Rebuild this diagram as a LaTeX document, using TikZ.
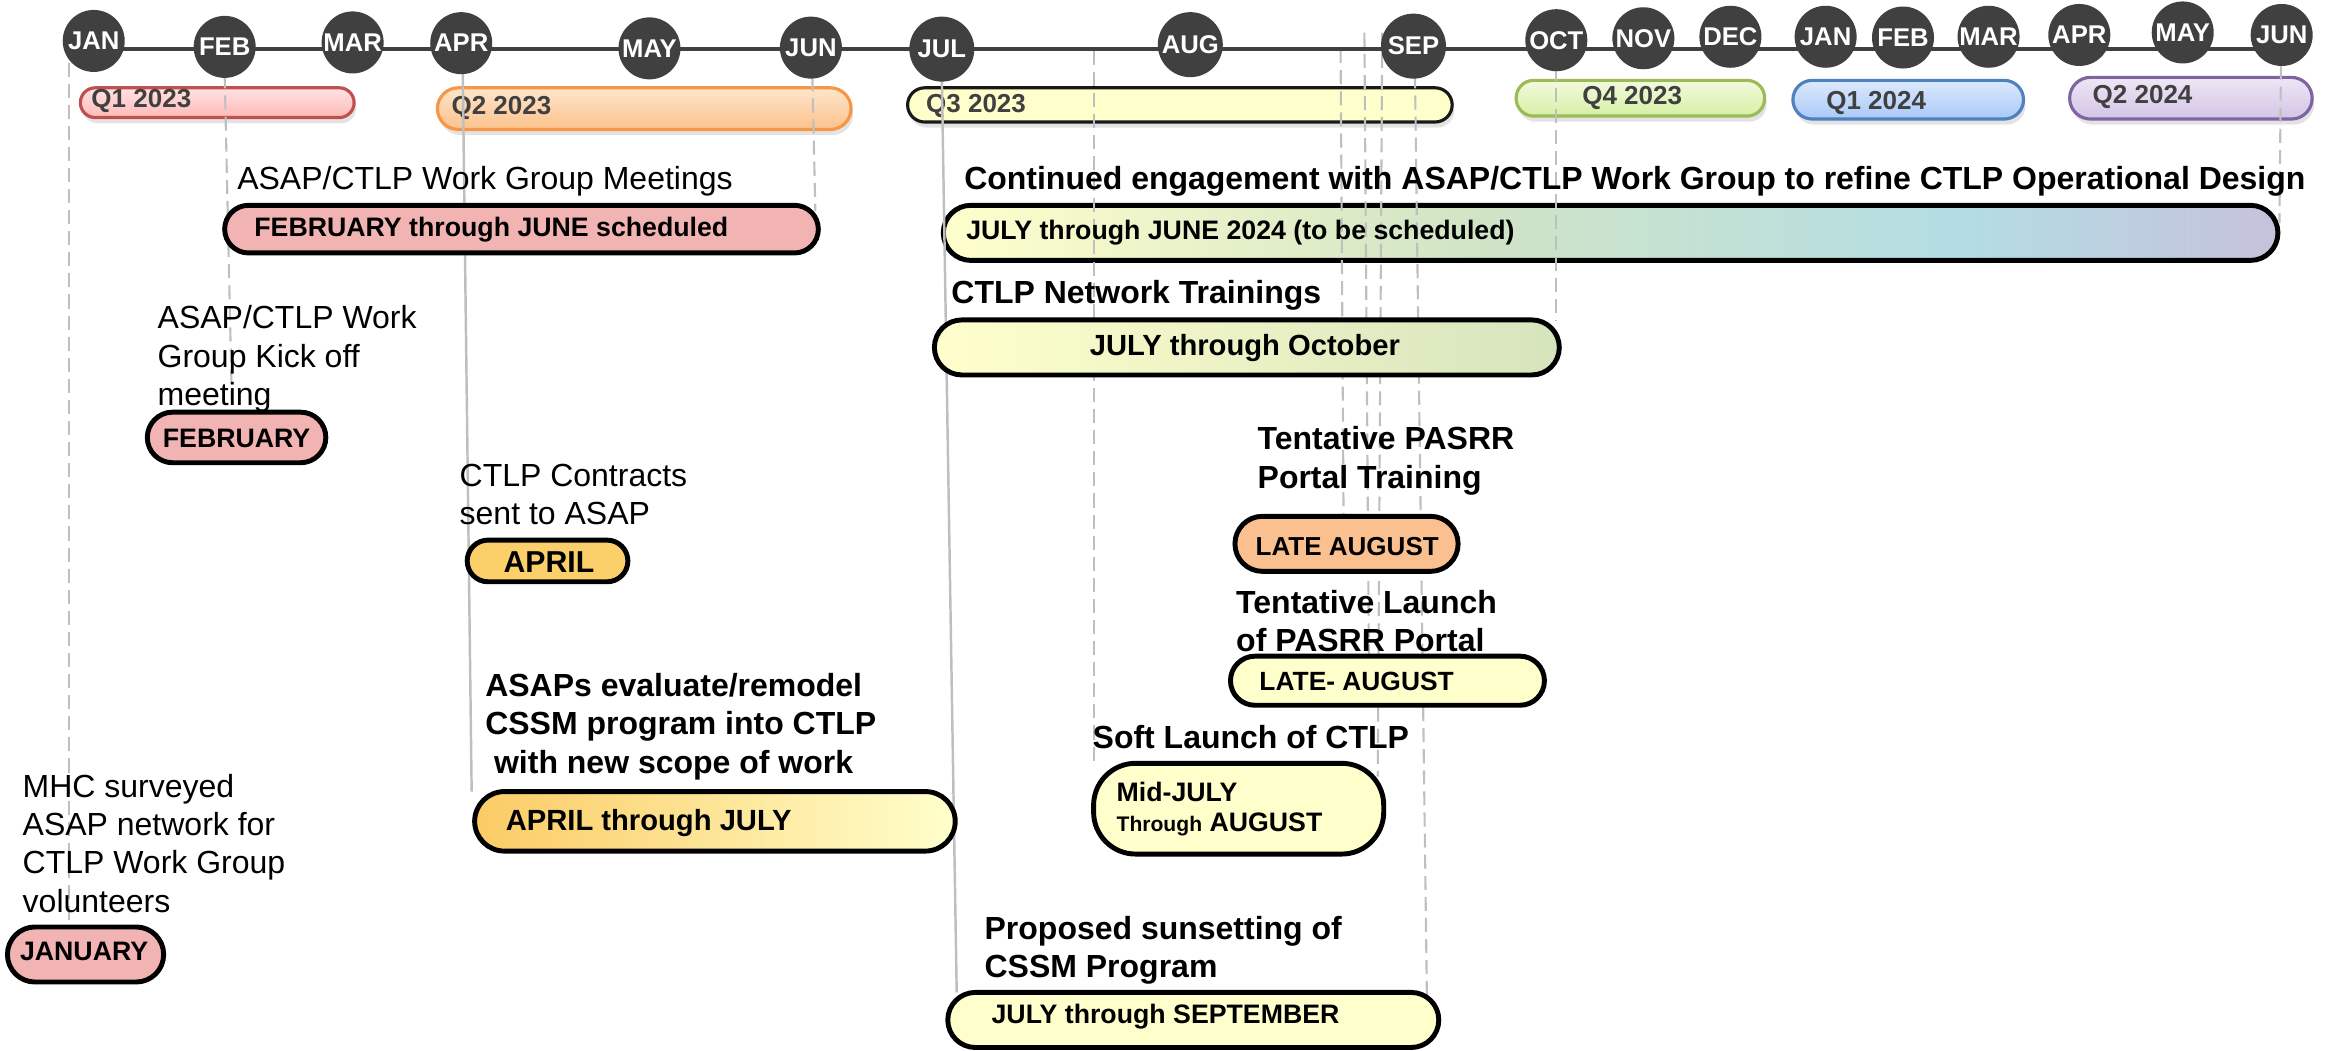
\documentclass[tikz,border=0pt]{standalone}
\usepackage{fontspec}
\setmainfont{Liberation Sans}
\usetikzlibrary{fit,shadows}
\definecolor{dkg}{HTML}{404040}
\definecolor{pinkf}{HTML}{F2B3B3}
\definecolor{goldf}{HTML}{FBCF6A}
\definecolor{yelf}{HTML}{FFFFCC}
\definecolor{orf}{HTML}{FAC090}
\definecolor{cGrn}{HTML}{D0E4C6}
\definecolor{cBlu}{HTML}{B3DDE4}
\definecolor{cLav}{HTML}{C6C2DC}
\definecolor{netG}{HTML}{D6E4BD}
\definecolor{guideg}{HTML}{BFBFBF}
\definecolor{qOneB}{HTML}{C0504D}\definecolor{qOneT}{HTML}{FFE3E3}\definecolor{qOneD}{HTML}{FFB9B9}
\definecolor{qTwoB}{HTML}{F79646}\definecolor{qTwoT}{HTML}{FEE5CC}\definecolor{qTwoD}{HTML}{FBC28C}
\definecolor{qFouB}{HTML}{9BBB59}\definecolor{qFouT}{HTML}{F3FADF}\definecolor{qFouD}{HTML}{D6F0A4}
\definecolor{qBluB}{HTML}{4F81BD}\definecolor{qBluT}{HTML}{DDE9FD}\definecolor{qBluD}{HTML}{A9C9F7}
\definecolor{qPurB}{HTML}{8064A2}\definecolor{qPurT}{HTML}{EEE6F5}\definecolor{qPurD}{HTML}{D3C5E6}
\pgfdeclarehorizontalshading{contshade}{100bp}{color(0bp)=(yelf); color(25bp)=(yelf); color(45bp)=(cGrn); color(63bp)=(cBlu); color(75bp)=(cLav); color(100bp)=(cLav)}
\begin{document}
\begin{tikzpicture}[x=0.01488cm,y=-0.01488cm,
  mon/.style={circle,fill=dkg,text=white,font=\bfseries\fontsize{7.3}{8}\selectfont,minimum size=0.62cm,inner sep=0pt},
  qbar/.style={line width=0.9pt,inner sep=0pt,drop shadow={opacity=0.22,shadow xshift=0.6pt,shadow yshift=-1.6pt}},
  qtxt/.style={anchor=west,inner sep=0pt,text=dkg,font=\bfseries\fontsize{7.4}{9}\selectfont},
  ev/.style={draw=black,line width=1.4pt,inner sep=0pt},
  btxt/.style={anchor=west,inner sep=0pt,font=\bfseries\fontsize{7.6}{9}\selectfont},
  ttl/.style={anchor=west,inner sep=0pt,align=left,font=\bfseries\fontsize{9.1}{10.9}\selectfont},
  ttln/.style={anchor=west,inner sep=0pt,align=left,font=\fontsize{9.1}{10.9}\selectfont},
  guide/.style={draw=guideg,line width=0.6pt,dash pattern=on 4pt off 2pt},
  guides/.style={draw=guideg,line width=0.7pt}]
\useasboundingbox (0,0) rectangle (1568,706.3);

% quarter bars
\node[qbar,draw=qOneB,top color=qOneT,bottom color=qOneD,rounded corners=0.149cm,fit={(54,59) (238,79)}] (q1) {};
\node[qbar,draw=qTwoB,top color=qTwoT,bottom color=qTwoD,rounded corners=0.208cm,fit={(294,59) (572,87)}] (q2) {};
\node[qbar,draw=black!90,fill=yelf,rounded corners=0.171cm,fit={(610,59) (976,82)}] (q3) {};
\node[qbar,draw=qFouB,top color=qFouT,bottom color=qFouD,rounded corners=0.175cm,fit={(1019,54) (1186,78)}] (q4) {};
\node[qbar,draw=qBluB,top color=qBluT,bottom color=qBluD,rounded corners=0.193cm,fit={(1205,54) (1360,80)}] (q5) {};
\node[qbar,draw=qPurB,top color=qPurT,bottom color=qPurD,rounded corners=0.208cm,fit={(1391,52) (1554,80)}] (q6) {};
\node[qtxt] (q1t) at (61,68) {Q1 2023};
\node[qtxt] (q2t) at (303,72.5) {Q2 2023};
\node[qtxt] (q3t) at (622,71.5) {Q3 2023};
\node[qtxt] (q4t) at (1063,66) {Q4 2023};
\node[qtxt] (q5t) at (1227,69) {Q1 2024};
\node[qtxt] (q6t) at (1406,65) {Q2 2024};

% long box drawn under the guides
\node[ev,shading=contshade,rounded corners=0.275cm,fit={(634,138) (1531,175)}] (b6) {};

% guide lines
\coordinate (g1a) at (46.5,42);  \coordinate (g1b) at (46.5,623);
\coordinate (g2a) at (151,50);   \coordinate (g2b) at (156,277);
\coordinate (g3a) at (311,48);   \coordinate (g3b) at (317,532);
\coordinate (g4a) at (546,52);   \coordinate (g4b) at (548,142);
\coordinate (g5a) at (633,52);   \coordinate (g5b) at (643,667);
\coordinate (g6a) at (735,34);   \coordinate (g6b) at (735,513);
\coordinate (g7a) at (901,33);   \coordinate (g7b) at (903,347);
\coordinate (g8a) at (917,22);   \coordinate (g8b) at (920,441);
\coordinate (g9a) at (929,22);   \coordinate (g9b) at (926,522);
\coordinate (g10a) at (951,50);  \coordinate (g10b) at (959,669);
\coordinate (g11a) at (1046,45); \coordinate (g11b) at (1046,216);
\coordinate (g12a) at (1533,44); \coordinate (g12b) at (1532,150);
\draw[guide] (g1a) -- (g1b);
\draw[guide] (g2a) -- (g2b);
\draw[guides] (g3a) -- (g3b);
\draw[guide] (g4a) -- (g4b);
\draw[guides] (g5a) -- (g5b);
\draw[guide] (g6a) -- (g6b);
\draw[guide] (g7a) -- (g7b);
\draw[guide] (g8a) -- (g8b);
\draw[guide] (g9a) -- (g9b);
\draw[guide] (g10a) -- (g10b);
\draw[guide] (g11a) -- (g11b);
\draw[guide] (g12a) -- (g12b);

% timeline
\coordinate (tlA) at (63,33); \coordinate (tlB) at (1533,33);
\draw[dkg,line width=1pt] (tlA) -- (tlB);
\node[mon] (m1) at (63,27.5) {JAN};
\node[mon] (m2) at (151,31.5) {FEB};
\node[mon] (m3) at (237,28.5) {MAR};
\node[mon] (m4) at (310,29) {APR};
\node[mon] (m5) at (436.5,32.5) {MAY};
\node[mon] (m6) at (545,32) {JUN};
\node[mon,minimum size=0.65cm] (m7) at (633,33) {JUL};
\node[mon,minimum size=0.65cm] (m8) at (800,30) {AUG};
\node[mon,minimum size=0.65cm] (m9) at (950,31) {SEP};
\node[mon] (m10) at (1046,27) {OCT};
\node[mon] (m11) at (1104.5,25.7) {NOV};
\node[mon] (m12) at (1163,24.7) {DEC};
\node[mon] (m13) at (1227,24.7) {JAN};
\node[mon] (m14) at (1279,25.2) {FEB};
\node[mon] (m15) at (1336.5,24.7) {MAR};
\node[mon] (m16) at (1397.5,23.5) {APR};
\node[mon] (m17) at (1467,21.8) {MAY};
\node[mon] (m18) at (1533.5,23.5) {JUN};

% event boxes
\node[ev,fill=pinkf,rounded corners=0.238cm,fit={(151,138) (550,170)}] (b1) {};
\node[ev,fill=pinkf,rounded corners=0.253cm,fit={(99,277) (219,311)}] (b2) {};
\node[ev,fill=goldf,rounded corners=0.208cm,fit={(314,363) (422,391)}] (b3) {};
\node[ev,left color=goldf!95!orange,middle color=yelf!60!goldf,right color=yelf,rounded corners=0.298cm,fit={(319,532) (642,572)}] (b4) {};
\node[ev,fill=pinkf,rounded corners=0.275cm,fit={(5,623) (110,660)}] (b5) {};
\node[ev,left color=yelf,right color=netG,rounded corners=0.275cm,fit={(628,215) (1048,252)}] (b7) {};
\node[ev,fill=orf,rounded corners=0.275cm,fit={(830,347) (980,384)}] (b8) {};
\node[ev,fill=yelf,rounded corners=0.245cm,fit={(827,441) (1038,474)}] (b9) {};
\node[ev,fill=yelf,rounded corners=0.42cm,fit={(735,513) (930,574)}] (b10) {};
\node[ev,fill=yelf,rounded corners=0.275cm,fit={(637,667) (967,704)}] (b11) {};

% box texts
\node[btxt] (b1t) at (170.5,154.5) {FEBRUARY through JUNE scheduled};
\node[btxt] (b2t) at (109,294.5) {FEBRUARY};
\node[btxt,font=\bfseries\fontsize{8.6}{10}\selectfont] (b3t) at (338,377.5) {APRIL};
\node[btxt,font=\bfseries\fontsize{8.3}{10}\selectfont] (b4t) at (339.5,553) {APRIL through JULY};
\node[btxt] (b5t) at (13,639.5) {JANUARY};
\node[btxt] (b6t) at (649,156.5) {JULY through JUNE 2024 (to be scheduled)};
\node[btxt,font=\bfseries\fontsize{8.3}{10}\selectfont] (b7t) at (732,234) {JULY through October};
\node[btxt,font=\bfseries\fontsize{7.4}{9}\selectfont] (b8t) at (843.5,367.5) {LATE AUGUST};
\node[btxt,font=\bfseries\fontsize{7.5}{9}\selectfont] (b9t) at (846,458) {LATE- AUGUST};
\node[btxt] (b10a) at (750,532) {Mid-JULY};
\node[btxt] (b10b) at (750,554) {{\fontsize{6}{7}\selectfont Through} AUGUST};
\node[btxt] (b11t) at (666,683.5) {JULY through SEPTEMBER};

% titles
\node[ttln] (t1) at (159,122) {ASAP/CTLP Work Group Meetings};
\node[ttln] (t2) at (105.5,241.3) {ASAP/CTLP Work\\Group Kick off\\meeting};
\node[ttln] (t3) at (308.5,332.3) {CTLP Contracts\\sent to ASAP};
\node[ttl] (t4) at (325.7,488.4) {ASAPs evaluate/remodel\\CSSM program into CTLP\\\hspace*{2.5pt}with new scope of work};
\node[ttln] (t5) at (14.8,566.7) {MHC surveyed\\ASAP network for\\CTLP Work Group\\volunteers};
\node[ttl] (t6) at (647.6,122) {Continued engagement with ASAP/CTLP Work Group to refine CTLP Operational Design};
\node[ttl] (t7) at (639,198.3) {CTLP Network Trainings};
\node[ttl] (t8) at (844.8,309.7) {Tentative PASRR\\Portal Training};
\node[ttl] (t9) at (830.4,417.2) {Tentative Launch\\of PASRR Portal};
\node[ttl] (t10) at (733.9,495.3) {Soft Launch of CTLP};
\node[ttl] (t11) at (661.3,638.7) {Proposed sunsetting of\\CSSM Program};
\end{tikzpicture}
\end{document}
